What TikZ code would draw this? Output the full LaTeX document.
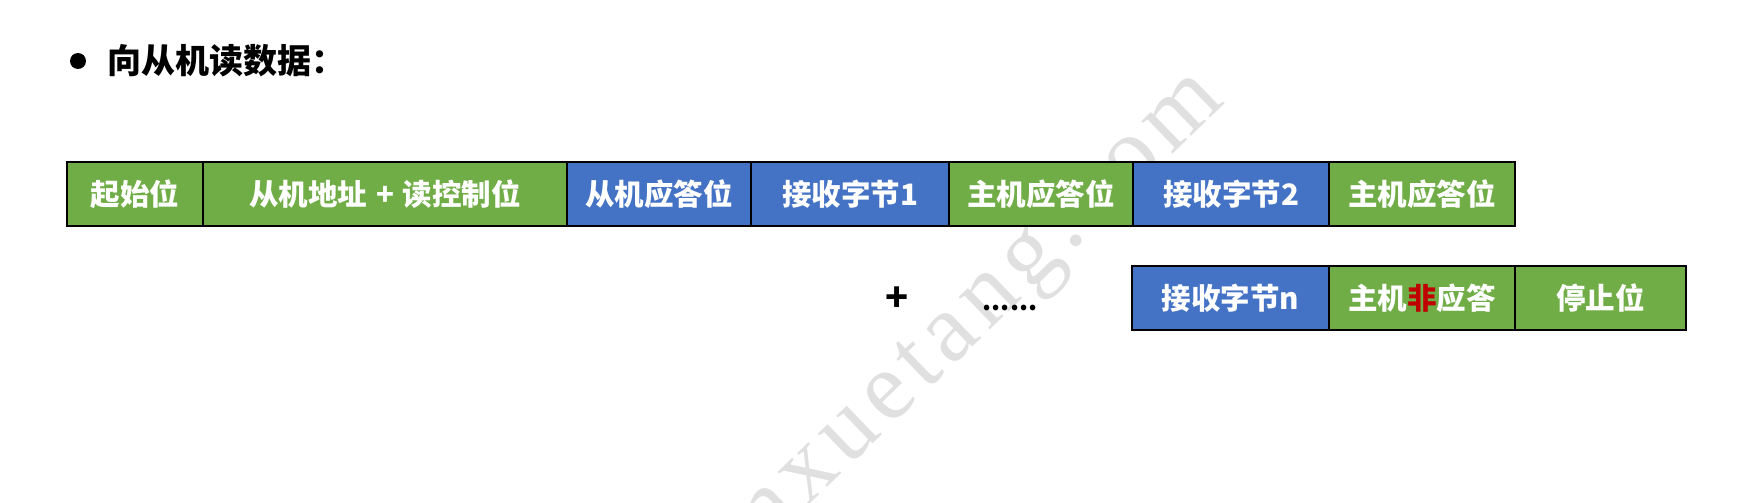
\documentclass[tikz,border=0pt]{standalone}
\usepackage{fontspec}
\newfontfamily\cjk{Noto Sans CJK SC}
\newfontfamily\wmfont[LetterSpace=8]{Liberation Serif}
\definecolor{boxgreen}{HTML}{70AD47}
\definecolor{boxblue}{HTML}{4472C4}
\definecolor{nonred}{HTML}{C00000}
\definecolor{wmgray}{HTML}{E0E0E0}
\tikzset{
  field/.style={draw=black, line width=2.4pt, inner sep=0pt, minimum height=64pt,
    text=white, font=\cjk\bfseries\fontsize{29.5}{29.5}\selectfont},
  gfield/.style={field, fill=boxgreen},
  bfield/.style={field, fill=boxblue},
}
\begin{document}
\begin{tikzpicture}[x=1pt,y=-1pt]
\useasboundingbox (0,0) rectangle (1740,503);
\begin{scope}
\clip (0,0) rectangle (1740,503);
\node[rotate=44, text=wmgray, font=\wmfont\fontsize{98}{98}\selectfont] (wm) at (985,312) {nxuetang.com};
\end{scope}
% title
\fill[black] (78,61) circle (8);
\node[anchor=west, font=\cjk\bfseries\fontsize{34}{34}\selectfont, inner sep=0pt] (title) at (107,61) {向从机读数据：};
% row 1
\node[gfield, minimum width=136pt] (b1) at (135,194) {起始位};
\node[gfield, minimum width=364pt] (b2) at (385,194) {从机地址\hspace{0.3em}+\hspace{0.3em}读控制位};
\node[bfield, minimum width=184pt] (b3) at (659,194) {从机应答位};
\node[bfield, minimum width=198pt] (b4) at (850,194) {接收字节1};
\node[gfield, minimum width=184pt] (b5) at (1041,194) {主机应答位};
\node[bfield, minimum width=196pt] (b6) at (1231,194) {接收字节2};
\node[gfield, minimum width=186pt] (b7) at (1422,194) {主机应答位};
% row 2
\node[font=\cjk\bfseries\fontsize{38}{38}\selectfont, inner sep=0pt] (plus) at (897,299) {+};
\node[font=\cjk\bfseries\fontsize{26}{26}\selectfont, inner sep=0pt, anchor=base] (dots) at (1010,310) {......};
\node[bfield, minimum width=197pt] (c1) at (1230.5,298) {接收字节n};
\node[gfield, minimum width=186pt] (c2) at (1422,298) {主机{\color{nonred}非}应答};
\node[gfield, minimum width=171pt] (c3) at (1600.5,298) {停止位};
\end{tikzpicture}
\end{document}
